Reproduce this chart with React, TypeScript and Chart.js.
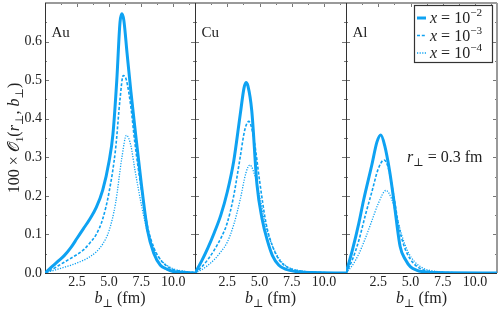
import React, { useEffect, useRef } from 'react';
import { Chart, registerables } from 'chart.js';

Chart.register(...registerables);

// ---------- data ----------
const panelNames = ['Au', 'Cu', 'Al'];
const seriesLabels = ['-2', '-3', '-4'];

const bAuSolid = [0, 0.5, 1, 1.5, 2, 2.5, 3, 3.5, 4, 4.5, 5, 5.3, 5.6, 5.85, 6.0, 6.15, 6.4, 6.7, 7, 7.5, 8, 8.5, 9, 9.5, 10, 11, 11.7];
const auSolid = [0, 0.015, 0.03, 0.045, 0.065, 0.09, 0.115, 0.14, 0.17, 0.215, 0.29, 0.36, 0.5, 0.65, 0.672, 0.655, 0.57, 0.47, 0.38, 0.235, 0.11, 0.05, 0.02, 0.01, 0.004, 0.001, 0];
const bAuDashed = [0, 0.5, 1, 1.5, 2, 2.5, 3, 3.5, 4, 4.5, 5, 5.5, 5.85, 6.1, 6.35, 6.7, 7, 7.5, 8, 8.5, 9, 9.5, 10, 11, 11.7];
const auDashed = [0, 0.008, 0.018, 0.028, 0.038, 0.048, 0.06, 0.078, 0.1, 0.14, 0.21, 0.32, 0.45, 0.512, 0.5, 0.43, 0.34, 0.22, 0.12, 0.065, 0.035, 0.018, 0.009, 0.003, 0.001];
const bAuDotted = [0, 0.5, 1, 1.5, 2, 2.5, 3, 3.5, 4, 4.5, 5, 5.5, 6, 6.35, 6.7, 7, 7.5, 8, 8.5, 9, 9.5, 10, 11, 11.7];
const auDotted = [0, 0.005, 0.01, 0.015, 0.02, 0.026, 0.033, 0.042, 0.055, 0.075, 0.11, 0.18, 0.3, 0.357, 0.33, 0.27, 0.18, 0.105, 0.06, 0.035, 0.02, 0.011, 0.004, 0.001];

const bCuSolid = [0, 0.5, 1, 1.5, 2, 2.5, 3, 3.5, 3.8, 3.95, 4.1, 4.4, 4.8, 5.2, 5.6, 6, 6.5, 7, 8, 9, 11.7];
const cuSolid = [0, 0.03, 0.065, 0.105, 0.15, 0.21, 0.29, 0.41, 0.48, 0.494, 0.485, 0.42, 0.23, 0.14, 0.085, 0.045, 0.02, 0.01, 0.003, 0.001, 0];
const bCuDashed = [0, 0.5, 1, 1.5, 2, 2.5, 3, 3.5, 3.85, 4.17, 4.6, 5, 5.5, 6, 6.5, 7, 7.5, 8.5, 10, 11.7];
const cuDashed = [0, 0.015, 0.035, 0.06, 0.09, 0.13, 0.2, 0.3, 0.37, 0.393, 0.34, 0.24, 0.13, 0.07, 0.035, 0.018, 0.01, 0.004, 0.001, 0];
const bCuDotted = [0, 0.5, 1, 1.5, 2, 2.5, 3, 3.5, 3.95, 4.25, 4.7, 5, 5.5, 6, 6.5, 7, 7.5, 8.5, 10, 11.7];
const cuDotted = [0, 0.008, 0.02, 0.035, 0.055, 0.08, 0.125, 0.19, 0.26, 0.28, 0.245, 0.2, 0.12, 0.07, 0.038, 0.02, 0.011, 0.004, 0.001, 0];

const bAlSolid = [0, 0.5, 1, 1.37, 2, 2.4, 2.7, 3, 3.4, 3.7, 4.2, 4.6, 5, 5.5, 6, 7, 11.7];
const alSolid = [0, 0.06, 0.13, 0.19, 0.28, 0.34, 0.358, 0.33, 0.26, 0.19, 0.068, 0.035, 0.016, 0.007, 0.003, 0.001, 0];
const bAlDashed = [0, 0.5, 1, 1.5, 2, 2.5, 2.95, 3.3, 3.7, 4.1, 4.5, 5, 5.5, 6, 7, 11.7];
const alDashed = [0, 0.035, 0.085, 0.15, 0.21, 0.27, 0.293, 0.27, 0.2, 0.12, 0.07, 0.035, 0.017, 0.008, 0.002, 0];
const bAlDotted = [0, 0.5, 1, 1.5, 2, 2.5, 3.1, 3.5, 3.9, 4.3, 4.8, 5.3, 6, 7, 8, 11.7];
const alDotted = [0, 0.02, 0.05, 0.09, 0.135, 0.18, 0.214, 0.195, 0.15, 0.1, 0.055, 0.03, 0.012, 0.004, 0.001, 0];

const xTicks = [2.5, 5.0, 7.5, 10.0];
const yTicks = [0.0, 0.1, 0.2, 0.3, 0.4, 0.5, 0.6];
const X_MAX = 11.7;
const Y_MAX = 0.7;

const panelSeries = [
  [[bAuSolid, auSolid], [bAuDashed, auDashed], [bAuDotted, auDotted]],
  [[bCuSolid, cuSolid], [bCuDashed, cuDashed], [bCuDotted, cuDotted]],
  [[bAlSolid, alSolid], [bAlDashed, alDashed], [bAlDotted, alDotted]],
];

// ---------- style ----------
const BLUE = '#0ea2f2';
const SERIF = '"Liberation Serif", "DejaVu Serif", serif';
const lineStyles = [
  { width: 3, dash: [] as number[] },
  { width: 1.6, dash: [3, 1.8] },
  { width: 1.3, dash: [1.2, 1.4] },
];
const panelBoxes = [
  { left: 0, width: 195, padLeft: 0, padRight: 0 },
  { left: 195, width: 151, padLeft: 0, padRight: 0 },
  { left: 346, width: 153, padLeft: 0, padRight: 2 },
];

type Seg = { t: string; italic?: boolean; scale?: number; dy?: number };

function drawRich(ctx: CanvasRenderingContext2D, segs: Seg[], x: number, y: number, size: number, align: 'left' | 'center' | 'right') {
  const parts = segs.map((s) => {
    const fs = size * (s.scale ?? 1);
    const font = `${s.italic ? 'italic ' : ''}${fs}px ${SERIF}`;
    ctx.font = font;
    return { ...s, font, w: ctx.measureText(s.t).width };
  });
  const total = parts.reduce((a, p) => a + p.w, 0);
  let cx = align === 'left' ? x : align === 'center' ? x - total / 2 : x - total;
  ctx.textAlign = 'left';
  ctx.textBaseline = 'alphabetic';
  for (const p of parts) {
    ctx.font = p.font;
    ctx.fillText(p.t, cx, y + (p.dy ?? 0) * size);
    cx += p.w;
  }
  return total;
}

function Panel({ idx }: { idx: number }) {
  const ref = useRef<HTMLCanvasElement | null>(null);
  const box = panelBoxes[idx];

  useEffect(() => {
    const canvas = ref.current;
    if (!canvas) return;
    const datasets = panelSeries[idx].map(([bs, vs], si) => ({
      label: `x = 10^${seriesLabels[si]}`,
      data: bs.map((b, i) => ({ x: b, y: vs[i] })),
      borderColor: BLUE,
      backgroundColor: BLUE,
      borderWidth: lineStyles[si].width,
      borderDash: lineStyles[si].dash,
      pointRadius: 0,
      fill: false,
      cubicInterpolationMode: 'monotone' as const,
      order: si,
    }));

    const framePlugin = {
      id: 'frame' + idx,
      beforeDatasetsDraw(chart: any) {
        const { ctx, chartArea: a, scales } = chart;
        ctx.save();
        ctx.strokeStyle = '#777';
        ctx.lineWidth = 1;
        for (let k = 0; k <= 14; k++) {
          const v = k * 0.05;
          const py = Math.round(scales.y.getPixelForValue(v)) + 0.5;
          const len = k % 2 === 0 ? 4 : 2;
          ctx.beginPath();
          ctx.moveTo(a.left, py);
          ctx.lineTo(a.left + len, py);
          ctx.moveTo(a.right, py);
          ctx.lineTo(a.right - len, py);
          ctx.stroke();
        }
        for (let k = 1; k * 1.25 < X_MAX; k++) {
          const px = Math.round(scales.x.getPixelForValue(k * 1.25)) + 0.5;
          const len = k % 2 === 0 ? 4 : 2;
          ctx.beginPath();
          ctx.moveTo(px, a.top);
          ctx.lineTo(px, a.top + len);
          ctx.stroke();
        }
        ctx.strokeStyle = '#9a9a9a';
        ctx.lineWidth = 2;
        ctx.beginPath();
        ctx.moveTo(a.left, a.top);
        ctx.lineTo(a.right, a.top);
        ctx.stroke();
        if (idx === 2) {
          ctx.beginPath();
          ctx.moveTo(a.right, a.top);
          ctx.lineTo(a.right, a.bottom);
          ctx.stroke();
        }
        ctx.strokeStyle = '#333';
        ctx.lineWidth = 1;
        ctx.beginPath();
        ctx.moveTo(a.left + 0.5, a.top);
        ctx.lineTo(a.left + 0.5, a.bottom);
        ctx.moveTo(a.left, a.bottom + 0.5);
        ctx.lineTo(a.right, a.bottom + 0.5);
        ctx.stroke();
        ctx.restore();
      },
      afterDraw(chart: any) {
        const { ctx, chartArea: a } = chart;
        ctx.save();
        ctx.fillStyle = '#222';
        drawRich(ctx, [{ t: panelNames[idx] }], a.left + 6.5, 37, 15, 'left');
        drawRich(
          ctx,
          [{ t: 'b', italic: true }, { t: '⊥', scale: 0.7, dy: 0.25 }, { t: ' (fm)' }],
          (a.left + a.right) / 2,
          303,
          16,
          'center'
        );
        if (idx === 0) {
          ctx.save();
          ctx.translate(19, (a.top + a.bottom) / 2);
          ctx.rotate(-Math.PI / 2);
          drawRich(
            ctx,
            [
              { t: '100 × ' },
              { t: '𝒪' },
              { t: '1', scale: 0.7, dy: 0.25 },
              { t: '(' },
              { t: 'r', italic: true },
              { t: '⊥', scale: 0.7, dy: 0.25 },
              { t: ', ' },
              { t: 'b', italic: true },
              { t: '⊥', scale: 0.7, dy: 0.25 },
              { t: ')' },
            ],
            0,
            0,
            16,
            'center'
          );
          ctx.restore();
        }
        if (idx === 2) {
          drawRich(
            ctx,
            [{ t: 'r', italic: true }, { t: '⊥', scale: 0.7, dy: 0.25 }, { t: ' = 0.3 fm' }],
            a.left + 61,
            162,
            16,
            'left'
          );
          const lx = a.left + 68.5;
          const ly = 5.5;
          const lw = 78;
          const lh = 57;
          ctx.fillStyle = '#fff';
          ctx.fillRect(lx, ly, lw, lh);
          ctx.strokeStyle = '#333';
          ctx.lineWidth = 1.2;
          ctx.strokeRect(lx, ly, lw, lh);
          const rows = [18, 35.5, 53];
          rows.forEach((ry, si) => {
            ctx.strokeStyle = BLUE;
            ctx.lineWidth = lineStyles[si].width;
            ctx.setLineDash(lineStyles[si].dash);
            ctx.beginPath();
            ctx.moveTo(lx + 2.5, ry);
            ctx.lineTo(lx + 11.5, ry);
            ctx.stroke();
            ctx.setLineDash([]);
            ctx.fillStyle = '#222';
            drawRich(
              ctx,
              [{ t: 'x', italic: true }, { t: ' = 10' }, { t: '−' + seriesLabels[si].slice(1), scale: 0.7, dy: -0.42 }],
              lx + 15.5,
              ry + 5,
              16,
              'left'
            );
          });
        }
        ctx.restore();
      },
    };

    const chart = new Chart(canvas, {
      type: 'line',
      data: { datasets },
      options: {
        animation: false,
        responsive: false,
        devicePixelRatio: 1,
        layout: { padding: { top: 3, left: box.padLeft, right: box.padRight, bottom: 0 } },
        plugins: { legend: { display: false }, tooltip: { enabled: false }, title: { display: false } },
        scales: {
          x: {
            type: 'linear',
            min: 0,
            max: X_MAX,
            border: { display: false },
            grid: { display: true, drawOnChartArea: false, drawTicks: true, tickLength: 1, color: 'rgba(0,0,0,0)' },
            afterBuildTicks: (s: any) => {
              s.ticks = xTicks.map((v) => ({ value: v }));
            },
            ticks: {
              autoSkip: false,
              maxRotation: 0,
              minRotation: 0,
              padding: 0,
              color: '#222',
              font: { family: SERIF, size: 14 },
              callback: (v: any) => Number(v).toFixed(1),
            },
            afterFit: (s: any) => {
              s.height = 39;
              s.paddingLeft = 0;
              s.paddingRight = 0;
            },
          },
          y: {
            type: 'linear',
            min: 0,
            max: Y_MAX,
            display: idx === 0,
            border: { display: false },
            grid: { display: true, drawOnChartArea: false, drawTicks: true, tickLength: 3, color: 'rgba(0,0,0,0)' },
            afterBuildTicks: (s: any) => {
              s.ticks = yTicks.map((v) => ({ value: v }));
            },
            ticks: {
              autoSkip: false,
              padding: 0,
              color: '#222',
              font: { family: SERIF, size: 14 },
              callback: (v: any) => Number(v).toFixed(1),
            },
            afterFit: (s: any) => {
              s.width = idx === 0 ? 45 : 0;
              s.paddingTop = 0;
              s.paddingBottom = 0;
            },
          },
        },
      },
      plugins: [framePlugin],
    } as any);
    return () => chart.destroy();
  }, [idx]);

  return (
    <canvas
      ref={ref}
      width={box.width}
      height={312}
      style={{ position: 'absolute', left: box.left, top: 0, width: box.width, height: 312 }}
    />
  );
}

export default function App() {
  return (
    <div style={{ position: 'fixed', left: 0, top: 0, width: 499, height: 312, background: '#fff', overflow: 'hidden' }}>
      <Panel idx={0} />
      <Panel idx={1} />
      <Panel idx={2} />
    </div>
  );
}
